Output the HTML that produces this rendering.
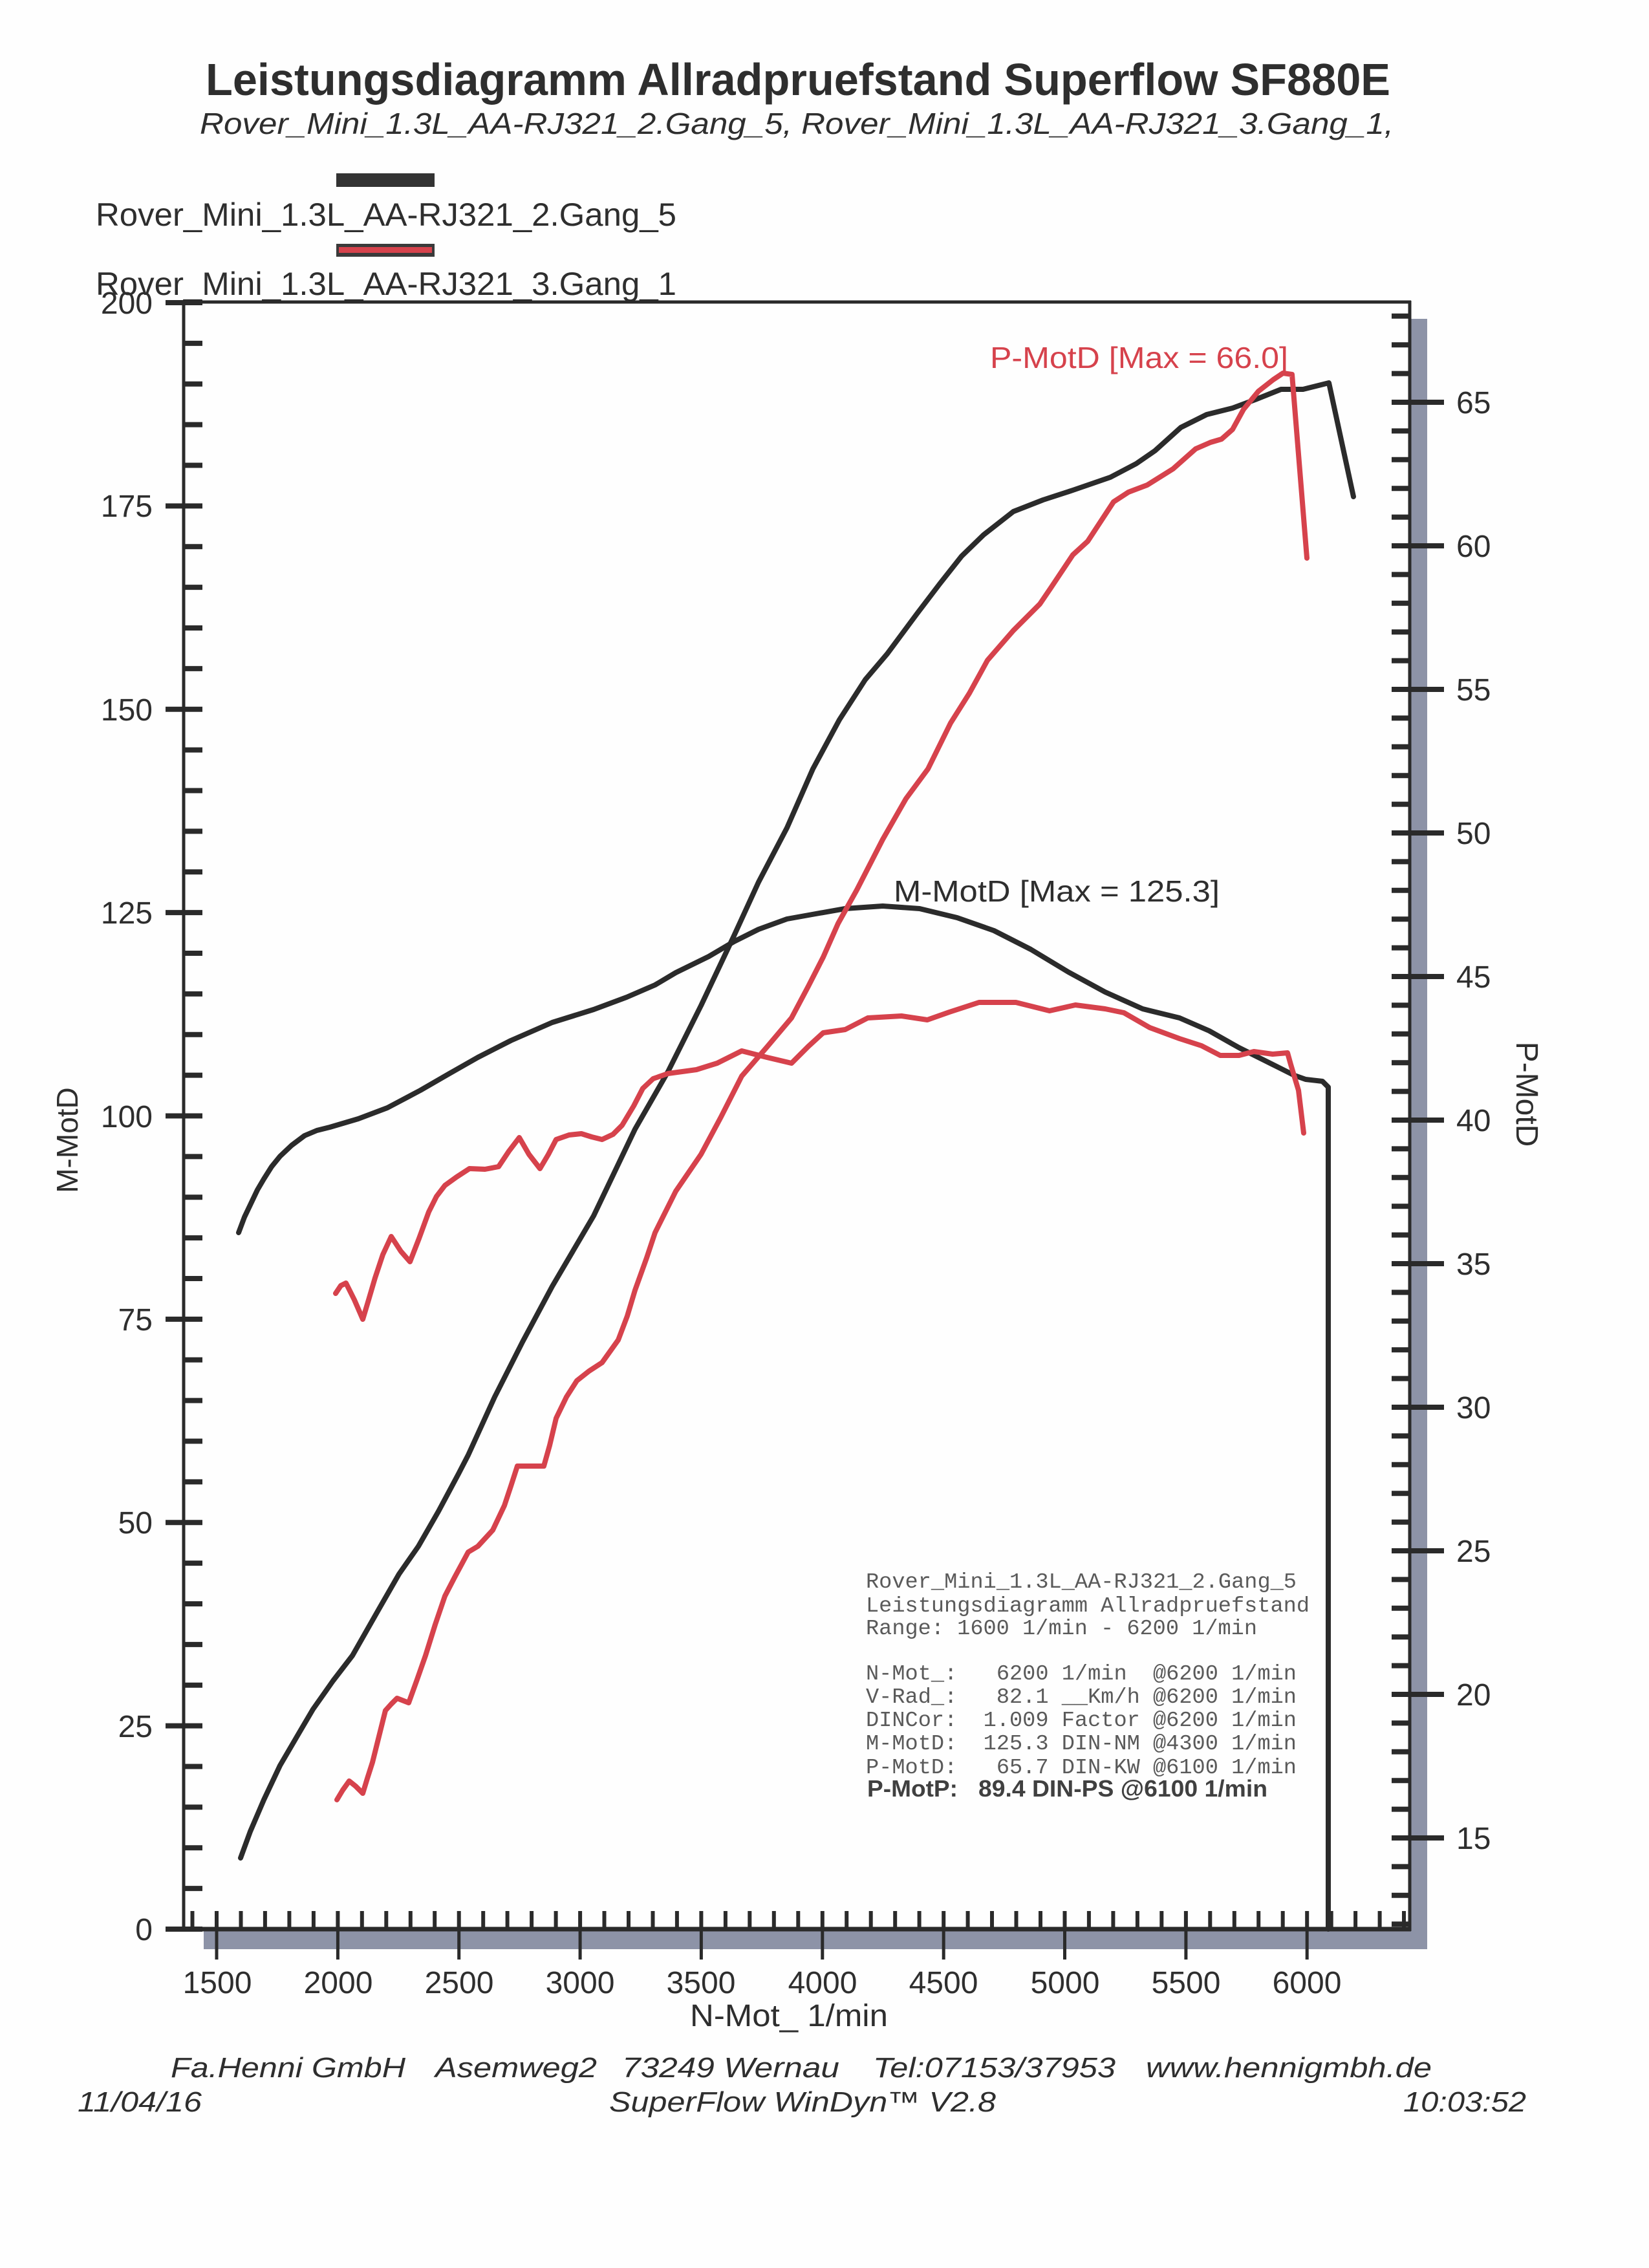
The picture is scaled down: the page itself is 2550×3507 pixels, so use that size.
<!DOCTYPE html>
<html>
<head>
<meta charset="utf-8">
<style>
html,body{margin:0;padding:0;background:#ffffff;}
svg{display:block;}
text{font-family:"Liberation Sans",Arial,sans-serif;}
text.mono{font-family:"Liberation Mono","Courier New",monospace;white-space:pre;}
</style>
</head>
<body>
<svg xmlns="http://www.w3.org/2000/svg" width="2550" height="3507" viewBox="0 0 2550 3507">
<rect x="0" y="0" width="2550" height="3507" fill="#fefefe"/>

<!-- Title -->
<text x="318" y="147" font-size="70" font-weight="bold" fill="#2e2e2e" textLength="1832" lengthAdjust="spacingAndGlyphs">Leistungsdiagramm Allradpruefstand Superflow SF880E</text>
<text x="309" y="207" font-size="46" font-style="italic" fill="#2e2e2e" textLength="1846" lengthAdjust="spacingAndGlyphs">Rover_Mini_1.3L_AA-RJ321_2.Gang_5, Rover_Mini_1.3L_AA-RJ321_3.Gang_1,</text>

<!-- Legend -->
<rect x="520" y="268" width="152" height="21" fill="#333333"/>
<text x="148" y="349" font-size="50" fill="#2e2e2e" textLength="898" lengthAdjust="spacingAndGlyphs">Rover_Mini_1.3L_AA-RJ321_2.Gang_5</text>
<rect x="520" y="377" width="152" height="20" fill="#3a3a3a"/>
<rect x="524" y="382" width="144" height="9" fill="#d6424c"/>
<text x="148" y="456" font-size="50" fill="#2e2e2e" textLength="898" lengthAdjust="spacingAndGlyphs">Rover_Mini_1.3L_AA-RJ321_3.Gang_1</text>

<!-- Shadow strips -->
<rect x="2182" y="493" width="25" height="2521" fill="#8d93a7"/>
<rect x="315" y="2986" width="1892" height="28" fill="#8d93a7"/>

<!-- Axes frame -->
<line x1="284" y1="467" x2="2182" y2="467" stroke="#2a2a2a" stroke-width="5"/>
<line x1="284" y1="465" x2="284" y2="2986" stroke="#2a2a2a" stroke-width="5"/>
<line x1="2180" y1="465" x2="2180" y2="2986" stroke="#2a2a2a" stroke-width="5"/>
<line x1="282" y1="2983" x2="2182" y2="2983" stroke="#2a2a2a" stroke-width="7"/>

<!-- Left ticks minor -->
<path stroke="#2a2a2a" stroke-width="8" fill="none" d="M284 2920.1h29M284 2857.25h29M284 2794.4h29M284 2731.5h29M284 2605.75h29M284 2542.9h29M284 2480h29M284 2417.1h29M284 2291.4h29M284 2228.5h29M284 2165.6h29M284 2102.75h29M284 1977h29M284 1914.1h29M284 1851.25h29M284 1788.4h29M284 1662.6h29M284 1599.75h29M284 1536.9h29M284 1474h29M284 1348.25h29M284 1285.4h29M284 1222.5h29M284 1159.6h29M284 1033.9h29M284 971h29M284 908.1h29M284 845.25h29M284 719.5h29M284 656.6h29M284 593.75h29M284 530.9h29"/>
<!-- Left ticks major -->
<path stroke="#2a2a2a" stroke-width="8" fill="none" d="M256 2983h57M256 2668.6h57M256 2354.25h57M256 2039.9h57M256 1725.5h57M256 1411.1h57M256 1096.75h57M256 782.4h57M256 468h57"/>

<!-- Right ticks minor -->
<path stroke="#2a2a2a" stroke-width="8" fill="none" d="M2152 488.8h28M2152 533.2h28M2152 577.6h28M2152 666.4h28M2152 710.8h28M2152 755.2h28M2152 799.6h28M2152 888.4h28M2152 932.8h28M2152 977.2h28M2152 1021.6h28M2152 1110.4h28M2152 1154.8h28M2152 1199.2h28M2152 1243.6h28M2152 1332.4h28M2152 1376.8h28M2152 1421.2h28M2152 1465.6h28M2152 1554.4h28M2152 1598.8h28M2152 1643.2h28M2152 1687.6h28M2152 1776.4h28M2152 1820.8h28M2152 1865.2h28M2152 1909.6h28M2152 1998.4h28M2152 2042.8h28M2152 2087.2h28M2152 2131.6h28M2152 2220.4h28M2152 2264.8h28M2152 2309.2h28M2152 2353.6h28M2152 2442.4h28M2152 2486.8h28M2152 2531.2h28M2152 2575.6h28M2152 2664.4h28M2152 2708.8h28M2152 2753.2h28M2152 2797.6h28M2152 2886.4h28M2152 2930.8h28M2152 2975.2h28"/>
<!-- Right ticks major -->
<path stroke="#2a2a2a" stroke-width="8" fill="none" d="M2152 622h81M2152 844h81M2152 1066h81M2152 1288h81M2152 1510h81M2152 1732h81M2152 1954h81M2152 2176h81M2152 2398h81M2152 2620h81M2152 2842h81"/>

<!-- X minor ticks -->
<path stroke="#2a2a2a" stroke-width="6" fill="none" d="M297.5 2955v28M335 2955v28M372.5 2955v28M409.9 2955v28M447.4 2955v28M484.9 2955v28M522.4 2955v28M559.8 2955v28M597.3 2955v28M634.8 2955v28M672.2 2955v28M709.7 2955v28M747.2 2955v28M784.6 2955v28M822.1 2955v28M859.6 2955v28M897.1 2955v28M934.5 2955v28M972 2955v28M1009.5 2955v28M1046.9 2955v28M1084.4 2955v28M1121.9 2955v28M1159.3 2955v28M1196.8 2955v28M1234.3 2955v28M1271.8 2955v28M1309.2 2955v28M1346.7 2955v28M1384.2 2955v28M1421.6 2955v28M1459.2 2955v28M1496.6 2955v28M1534 2955v28M1571.5 2955v28M1609 2955v28M1646.5 2955v28M1683.9 2955v28M1721.4 2955v28M1758.9 2955v28M1796.3 2955v28M1833.9 2955v28M1871.3 2955v28M1908.8 2955v28M1946.2 2955v28M1983.7 2955v28M2021.2 2955v28M2058.7 2955v28M2096.1 2955v28M2133.6 2955v28M2171 2955v28"/>
<!-- X major ticks -->
<path stroke="#2a2a2a" stroke-width="5" fill="none" d="M335 2983v47M522.4 2983v47M709.7 2983v47M897.1 2983v47M1084.4 2983v47M1271.8 2983v47M1459.2 2983v47M1646.5 2983v47M1833.9 2983v47M2021.2 2983v47"/>

<!-- Left tick labels -->
<g font-size="48" fill="#2e2e2e" text-anchor="end">
<text x="236" y="3000">0</text>
<text x="236" y="2686">25</text>
<text x="236" y="2371">50</text>
<text x="236" y="2057">75</text>
<text x="236" y="1743">100</text>
<text x="236" y="1428">125</text>
<text x="236" y="1114">150</text>
<text x="236" y="799">175</text>
<text x="236" y="485">200</text>
</g>

<!-- Right tick labels -->
<g font-size="48" fill="#2e2e2e">
<text x="2252" y="639">65</text>
<text x="2252" y="861">60</text>
<text x="2252" y="1083">55</text>
<text x="2252" y="1305">50</text>
<text x="2252" y="1527">45</text>
<text x="2252" y="1749">40</text>
<text x="2252" y="1971">35</text>
<text x="2252" y="2193">30</text>
<text x="2252" y="2415">25</text>
<text x="2252" y="2637">20</text>
<text x="2252" y="2859">15</text>
</g>

<!-- X tick labels -->
<g font-size="48" fill="#2e2e2e" text-anchor="middle">
<text x="336" y="3082">1500</text>
<text x="523" y="3082">2000</text>
<text x="710" y="3082">2500</text>
<text x="897" y="3082">3000</text>
<text x="1084" y="3082">3500</text>
<text x="1272" y="3082">4000</text>
<text x="1459" y="3082">4500</text>
<text x="1647" y="3082">5000</text>
<text x="1834" y="3082">5500</text>
<text x="2021" y="3082">6000</text>
</g>

<!-- Axis titles -->
<text x="1067" y="3133" font-size="48" fill="#2e2e2e" textLength="306" lengthAdjust="spacingAndGlyphs">N-Mot_ 1/min</text>
<text transform="translate(120,1763) rotate(-90)" font-size="46" fill="#2e2e2e" text-anchor="middle">M-MotD</text>
<text transform="translate(2345,1692) rotate(90)" font-size="48" fill="#2e2e2e" text-anchor="middle">P-MotD</text>

<!-- Curves -->
<!-- Black torque -->
<polyline fill="none" stroke="#2b2b2b" stroke-width="8" stroke-linejoin="round" stroke-linecap="round" points="369,1906 378,1882 388,1861 398,1840 408,1823 420,1804 433,1788 451,1771 471,1756 490,1748 510,1743 554,1730 599,1713 650,1686 695,1660 739,1635 790,1609 854,1581 918,1561 969,1542 1013,1523 1045,1504 1096,1479 1135,1456 1173,1437 1217,1421 1256,1414 1307,1405 1365,1401 1422,1405 1480,1419 1537,1439 1594,1468 1652,1503 1709,1534 1767,1560 1824,1574 1870,1594 1916,1620 1968,1646 2002,1663 2019,1669 2045,1672 2054,1681 2054,2983"/>
<!-- Black power -->
<polyline fill="none" stroke="#2b2b2b" stroke-width="8" stroke-linejoin="round" stroke-linecap="round" points="372,2873 387,2832 408,2783 433,2730 464,2677 484,2643 515,2599 545,2560 586,2488 617,2434 647,2391 678,2337 709,2279 724,2250 765,2160 808,2075 854,1989 918,1880 982,1746 1033,1657 1084,1555 1135,1447 1173,1364 1217,1280 1257,1189 1298,1113 1338,1051 1372,1011 1418,949 1453,903 1487,860 1521,827 1567,791 1613,773 1659,758 1717,738 1757,717 1786,697 1826,661 1866,641 1906,631 1941,618 1981,602 2015,602 2055,592 2093,768"/>
<!-- Red torque -->
<polyline fill="none" stroke="#d6424c" stroke-width="8" stroke-linejoin="round" stroke-linecap="round" points="519,2000 527,1988 535,1984 548,2010 561,2040 570,2010 580,1976 592,1940 605,1912 620,1935 634,1951 648,1915 663,1874 675,1850 688,1833 706,1820 726,1807 750,1808 771,1804 787,1780 803,1759 818,1785 835,1807 848,1785 860,1762 880,1755 899,1753 915,1758 931,1762 948,1754 962,1740 980,1710 994,1683 1010,1668 1033,1660 1077,1654 1109,1644 1147,1625 1186,1635 1224,1644 1250,1618 1273,1597 1307,1592 1342,1574 1394,1571 1434,1577 1468,1565 1514,1550 1571,1550 1623,1563 1663,1554 1709,1560 1738,1566 1778,1589 1824,1606 1858,1617 1887,1632 1916,1632 1939,1626 1968,1630 1991,1628 1996,1646 2008,1686 2016,1752"/>
<!-- Red power -->
<polyline fill="none" stroke="#d6424c" stroke-width="8" stroke-linejoin="round" stroke-linecap="round" points="521,2783 530,2768 540,2754 550,2762 561,2773 568,2750 576,2725 586,2685 596,2645 605,2635 614,2626 632,2633 645,2597 658,2560 673,2512 688,2468 703,2439 724,2400 739,2391 762,2366 780,2328 790,2298 800,2267 821,2267 841,2267 850,2235 860,2193 876,2160 892,2135 911,2120 931,2107 956,2072 970,2035 982,1995 1000,1945 1013,1906 1045,1842 1084,1785 1115,1727 1147,1664 1186,1619 1224,1574 1250,1525 1273,1480 1296,1428 1325,1376 1365,1298 1401,1235 1435,1189 1470,1118 1499,1072 1527,1021 1567,975 1608,934 1625,909 1659,858 1682,837 1722,776 1745,761 1774,750 1814,725 1849,694 1872,684 1889,679 1906,664 1923,633 1946,605 1969,587 1984,577 1998,579 2021,863"/>

<!-- Curve annotations -->
<text x="1531" y="569" font-size="46" fill="#d6424c" textLength="461" lengthAdjust="spacingAndGlyphs">P-MotD [Max = 66.0]</text>
<text x="1382" y="1394" font-size="46" fill="#2e2e2e" textLength="504" lengthAdjust="spacingAndGlyphs">M-MotD [Max = 125.3]</text>

<!-- Info box -->
<g font-size="33.6" fill="#5a5a5a">
<text class="mono" x="1339" y="2455" xml:space="preserve" textLength="666" lengthAdjust="spacingAndGlyphs">Rover_Mini_1.3L_AA-RJ321_2.Gang_5</text>
<text class="mono" x="1339" y="2492" xml:space="preserve" textLength="686" lengthAdjust="spacingAndGlyphs">Leistungsdiagramm Allradpruefstand</text>
<text class="mono" x="1339" y="2527" xml:space="preserve" textLength="605" lengthAdjust="spacingAndGlyphs">Range: 1600 1/min - 6200 1/min</text>
<text class="mono" x="1339" y="2597" xml:space="preserve" textLength="666" lengthAdjust="spacingAndGlyphs">N-Mot_:   6200 1/min  @6200 1/min</text>
<text class="mono" x="1339" y="2633" xml:space="preserve" textLength="666" lengthAdjust="spacingAndGlyphs">V-Rad_:   82.1 __Km/h @6200 1/min</text>
<text class="mono" x="1339" y="2669" xml:space="preserve" textLength="666" lengthAdjust="spacingAndGlyphs">DINCor:  1.009 Factor @6200 1/min</text>
<text class="mono" x="1339" y="2705" xml:space="preserve" textLength="666" lengthAdjust="spacingAndGlyphs">M-MotD:  125.3 DIN-NM @4300 1/min</text>
<text class="mono" x="1339" y="2742" xml:space="preserve" textLength="666" lengthAdjust="spacingAndGlyphs">P-MotD:   65.7 DIN-KW @6100 1/min</text>
</g>
<text x="1341" y="2778" font-size="36" font-weight="bold" fill="#404040" textLength="140" lengthAdjust="spacingAndGlyphs">P-MotP:</text>
<text x="1513" y="2778" font-size="36" font-weight="bold" fill="#404040" textLength="447" lengthAdjust="spacingAndGlyphs">89.4 DIN-PS @6100 1/min</text>

<!-- Footer -->
<g font-size="44" font-style="italic" fill="#2e2e2e">
<text x="264" y="3212" textLength="363" lengthAdjust="spacingAndGlyphs">Fa.Henni GmbH</text>
<text x="673" y="3212" textLength="250" lengthAdjust="spacingAndGlyphs">Asemweg2</text>
<text x="962" y="3212" textLength="336" lengthAdjust="spacingAndGlyphs">73249 Wernau</text>
<text x="1350" y="3212" textLength="375" lengthAdjust="spacingAndGlyphs">Tel:07153/37953</text>
<text x="1772" y="3212" textLength="442" lengthAdjust="spacingAndGlyphs">www.hennigmbh.de</text>
<text x="120" y="3265" textLength="192" lengthAdjust="spacingAndGlyphs">11/04/16</text>
<text x="942" y="3265" textLength="598" lengthAdjust="spacingAndGlyphs">SuperFlow WinDyn™ V2.8</text>
<text x="2170" y="3265" textLength="190" lengthAdjust="spacingAndGlyphs">10:03:52</text>
</g>
</svg>
</body>
</html>
